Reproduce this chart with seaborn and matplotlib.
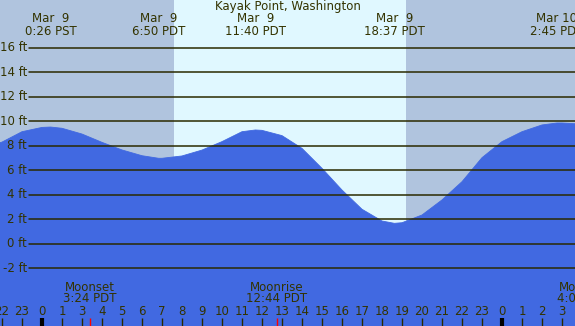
import matplotlib
matplotlib.use("Agg")
import matplotlib.pyplot as plt
import seaborn as sns
import pandas as pd

# ---- data (hours are real hours since Mar 9 00:00 PST) ----
hours = [-2.1, -2, -1, 0, 0.43, 1, 2, 3, 4, 5, 5.83, 6, 7, 8, 9, 10, 10.67, 11, 12,
         13, 14, 15, 16, 17, 17.62, 18, 19, 20, 21, 22, 23, 24, 25, 25.75, 26, 26.65]
heights = [8.25, 8.3, 9.15, 9.5, 9.53, 9.43, 8.96, 8.28, 7.66, 7.19, 6.98, 6.98, 7.17, 7.65, 8.34, 9.15, 9.29, 9.26, 8.83,
           7.79, 6.16, 4.39, 2.82, 1.86, 1.67, 1.72, 2.35, 3.58, 5.07, 7.03, 8.34, 9.15, 9.7, 9.86, 9.86, 9.8]

event_hours = [0.43, 5.83, 10.67, 17.62, 25.75]
event_dates = ["Mar  9", "Mar  9", "Mar  9", "Mar  9", "Mar 10"]
event_times = ["0:26 PST", "6:50 PDT", "11:40 PDT", "18:37 PDT", "2:45 PDT"]

sunrise, sunset = 6.6, 18.2

tick_hours = list(range(-2, 27))
tick_labels = ["22", "23", "0", "1", "3", "4", "5", "6", "7", "8", "9", "10", "11", "12", "13", "14",
               "15", "16", "17", "18", "19", "20", "21", "22", "23", "0", "1", "2", "3"]
midnights = [0, 23]

moon_hours = [2.4, 11.73, 27.07]
moon_names = ["Moonset", "Moonrise", "Moonset"]
moon_times = ["3:24 PDT", "12:44 PDT", "4:04 PDT"]

y_ticks = [-2, 0, 2, 4, 6, 8, 10, 12, 14, 16]
title = "Kayak Point, Washington"

# ---- style ----
night_c = "#b0c4de"
day_c = "#e0f8ff"
water_c = "#4169e1"
txt_c = "#333300"
line_c = "#2a2a00"

sns.set_style("white")
plt.rcParams['font.family'] = ['DejaVu Sans']

fig = plt.figure(figsize=(5.75, 3.26), dpi=100)
ax = fig.add_axes([0, 0, 1, 1])
x0, x1 = -2.1, 26.65
y0, y1 = -6.71, 19.90
ax.set_xlim(x0, x1)
ax.set_ylim(y0, y1)
ax.axis("off")

ax.axvspan(x0, sunrise, color=night_c, lw=0, zorder=0)
ax.axvspan(sunrise, sunset, color=day_c, lw=0, zorder=0)
ax.axvspan(sunset, x1, color=night_c, lw=0, zorder=0)

df = pd.DataFrame({"hour": hours, "height": heights})
ax.fill_between(df["hour"], df["height"], y0 - 1, color=water_c, lw=0, zorder=1)
sns.lineplot(data=df, x="hour", y="height", ax=ax, color=water_c, lw=0.6, zorder=2)

grid_x0 = x0 + 29 / 20
for yv in y_ticks:
    ax.plot([grid_x0, x1], [yv, yv], color=line_c, lw=1.1, zorder=3)
    ax.text(x0 + 27 / 20, yv, f"{yv} ft", ha="right", va="center", fontsize=8.5, color=txt_c, zorder=4)

fs = 8.5
ax.text((x0 + x1) / 2, 19.33, title, ha="center", va="center", fontsize=fs, color=txt_c)
for h, d, t in zip(event_hours, event_dates, event_times):
    ax.text(h, 18.35, d, ha="center", va="center", fontsize=fs, color=txt_c)
    ax.text(h, 17.29, t, ha="center", va="center", fontsize=fs, color=txt_c)

for h, lab in zip(tick_hours, tick_labels):
    ax.text(h, -5.49, lab, ha="center", va="center", fontsize=fs, color=txt_c, zorder=4)
    lw = 3 if h in midnights else 1
    ax.plot([h, h], [-6.06, y0], color="black" if h in midnights else line_c, lw=lw, zorder=4,
            solid_capstyle="butt")

for h, n, t in zip(moon_hours, moon_names, moon_times):
    ax.text(h, -3.53, n, ha="center", va="center", fontsize=fs, color=txt_c, zorder=4)
    ax.text(h, -4.5, t, ha="center", va="center", fontsize=fs, color=txt_c, zorder=4)
    ax.plot([h, h], [-6.06, y0], color="red", lw=1, zorder=5, solid_capstyle="butt")

ax.set_xlabel("")
ax.set_ylabel("")
fig.savefig("out.png", dpi=100)
